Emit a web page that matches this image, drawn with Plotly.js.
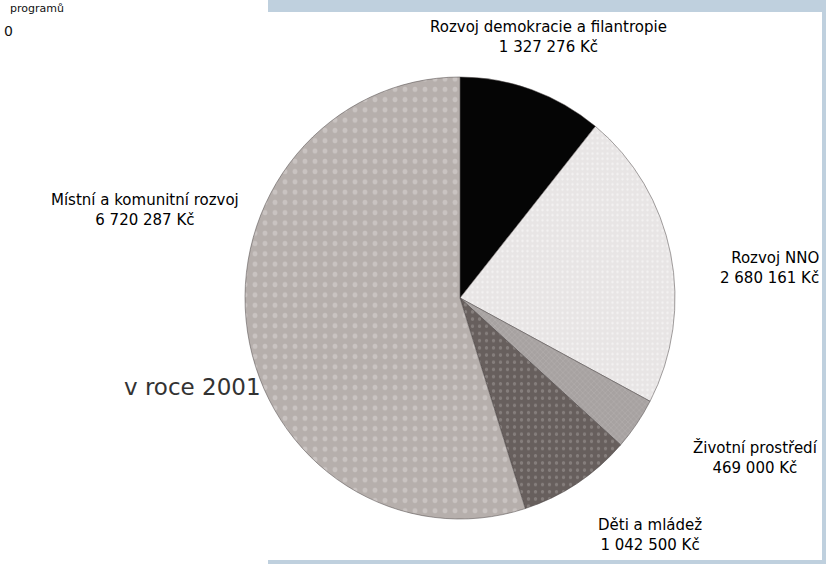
<!DOCTYPE html>
<html>
<head>
<meta charset="utf-8">
<script src="https://cdn.plot.ly/plotly-3.0.1.min.js"></script>
<style>html,body{margin:0;padding:0;background:#fff;}#chart{width:826px;height:564px;}</style>
</head>
<body>
<div id="chart"></div>
<script>
const categories = ["Rozvoj demokracie a filantropie", "Rozvoj NNO", "Životní prostředí", "Děti a mládež", "Místní a komunitní rozvoj"];
const amounts = [1327276, 2680161, 469000, 1042500, 6720287];
const amountLabels = ["1 327 276 Kč", "2 680 161 Kč", "469 000 Kč", "1 042 500 Kč", "6 720 287 Kč"];
const sliceColors = ["#050505", "#e8e5e5", "#a7a2a1", "#675f5d", "#b6afac"];
const patternShapes = ["", ".", "x", ".", "."];
const patternColors = ["#050505", "#fdfdfd", "#cfcbca", "#a39d9b", "#dcd7d5"];
const patternSizes = [8, 5, 4, 7, 10];
const sideText = "v roce 2001";

const W = 826, H = 564;
const px = x => x / W, py = y => 1 - y / H;

const cx = 460, cy = 298, rx = 215, ry = 221;

const trace = {
  type: "pie",
  values: amounts,
  labels: categories,
  sort: false,
  direction: "clockwise",
  rotation: 0,
  textinfo: "none",
  hoverinfo: "label+value",
  showlegend: false,
  domain: {x: [px(cx - rx), px(cx + rx)], y: [py(cy + rx), py(cy - rx)]},
  marker: {
    colors: sliceColors,
    line: {color: "#4a4444", width: 0.5},
    pattern: {shape: patternShapes, fgcolor: patternColors, size: patternSizes, solidity: 0.18, fillmode: "overlay"}
  }
};

const labelPos = [
  {x: 548, y: 37, xanchor: "center", align: "center"},
  {x: 821, y: 268, xanchor: "right", align: "right"},
  {x: 755, y: 457, xanchor: "center", align: "center"},
  {x: 650, y: 535, xanchor: "center", align: "center"},
  {x: 145, y: 210, xanchor: "center", align: "center"}
];

const annotations = categories.map((c, i) => ({
  xref: "paper", yref: "paper",
  x: px(labelPos[i].x), y: py(labelPos[i].y),
  xanchor: labelPos[i].xanchor, yanchor: "middle",
  text: c + "<br>" + amountLabels[i],
  showarrow: false, align: labelPos[i].align,
  font: {family: "DejaVu Sans, sans-serif", size: 15, color: "#000"}
}));

annotations.push({
  xref: "paper", yref: "paper", x: px(122), y: py(387), xanchor: "left", yanchor: "middle",
  text: sideText, showarrow: false,
  font: {family: "DejaVu Sans, sans-serif", size: 23, color: "#333"}
});
annotations.push({
  xref: "paper", yref: "paper", x: px(66), y: py(8), xanchor: "right", yanchor: "middle",
  text: "programů", showarrow: false,
  font: {family: "DejaVu Sans, sans-serif", size: 11, color: "#111"}
});
annotations.push({
  xref: "paper", yref: "paper", x: px(2), y: py(31), xanchor: "left", yanchor: "middle",
  text: "0", showarrow: false,
  font: {family: "DejaVu Sans, sans-serif", size: 14, color: "#111"}
});

const frame = "#bfd0de";
const shapes = [
  {type: "rect", xref: "paper", yref: "paper", x0: px(268), x1: 1, y0: py(12), y1: 1, fillcolor: frame, line: {width: 0}, layer: "above"},
  {type: "rect", xref: "paper", yref: "paper", x0: px(822), x1: 1, y0: 0, y1: py(12), fillcolor: frame, line: {width: 0}, layer: "above"},
  {type: "rect", xref: "paper", yref: "paper", x0: px(268), x1: 1, y0: 0, y1: py(560), fillcolor: frame, line: {width: 0}, layer: "above"}
];

const layout = {
  width: W, height: H,
  margin: {l: 0, r: 0, t: 0, b: 0},
  paper_bgcolor: "#fff", plot_bgcolor: "#fff",
  annotations: annotations,
  shapes: shapes,
  showlegend: false
};

Plotly.newPlot("chart", [trace], layout, {displayModeBar: false, staticPlot: true}).then(() => {
  const s = ry / rx;
  document.querySelectorAll("#chart .pielayer").forEach(g => {
    g.setAttribute("transform", `translate(0,${cy}) scale(1,${s}) translate(0,${-cy})`);
  });
});
</script>
</body>
</html>
